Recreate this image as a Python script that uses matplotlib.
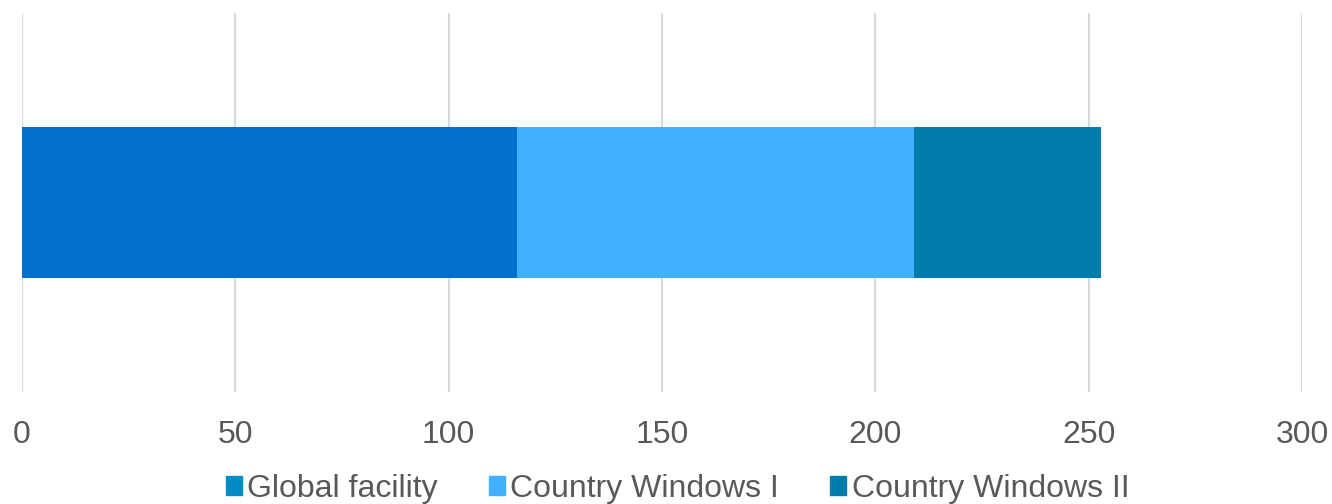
import matplotlib.pyplot as plt
from matplotlib.patches import Patch

plt.rcParams['font.family'] = ['Liberation Sans', 'DejaVu Sans']

categories = ['']
series_names = ['Global facility', 'Country Windows I', 'Country Windows II']
global_facility = [116]
country_windows_1 = [93]
country_windows_2 = [44]
bar_colors = ['#0070cc', '#41b0ff', '#007dac']
legend_colors = ['#008cc4', '#41b0ff', '#007dac']
x_ticks = [0, 50, 100, 150, 200, 250, 300]

fig = plt.figure(figsize=(13.32, 5.04), dpi=100)
ax = fig.add_axes([22 / 1332, 112 / 504, 1280 / 1332, 379 / 504])

left = [0] * len(categories)
for values, color in zip([global_facility, country_windows_1, country_windows_2], bar_colors):
    ax.barh(categories, values, left=left, height=0.4, color=color, zorder=3)
    left = [a + b for a, b in zip(left, values)]

ax.set_xlim(0, 300)
ax.set_ylim(-0.5, 0.5)
ax.set_xticks(x_ticks)
ax.set_yticks([])
ax.grid(axis='x', color='#d9d9d9', linewidth=1.5, zorder=0)
for s in ax.spines.values():
    s.set_visible(False)
ax.tick_params(axis='x', length=0, pad=20, labelsize=23, labelcolor='#595959')

handles = [Patch(color=c) for c in legend_colors]
fig.legend(handles, series_names, loc='center', bbox_to_anchor=(0.5087, 0.03), ncol=3,
           frameon=False, fontsize=23, labelcolor='#595959', handlelength=0.5, handleheight=0.5,
           handletextpad=0.17, columnspacing=1.6, borderpad=0)

fig.savefig('out.png', dpi=100)
